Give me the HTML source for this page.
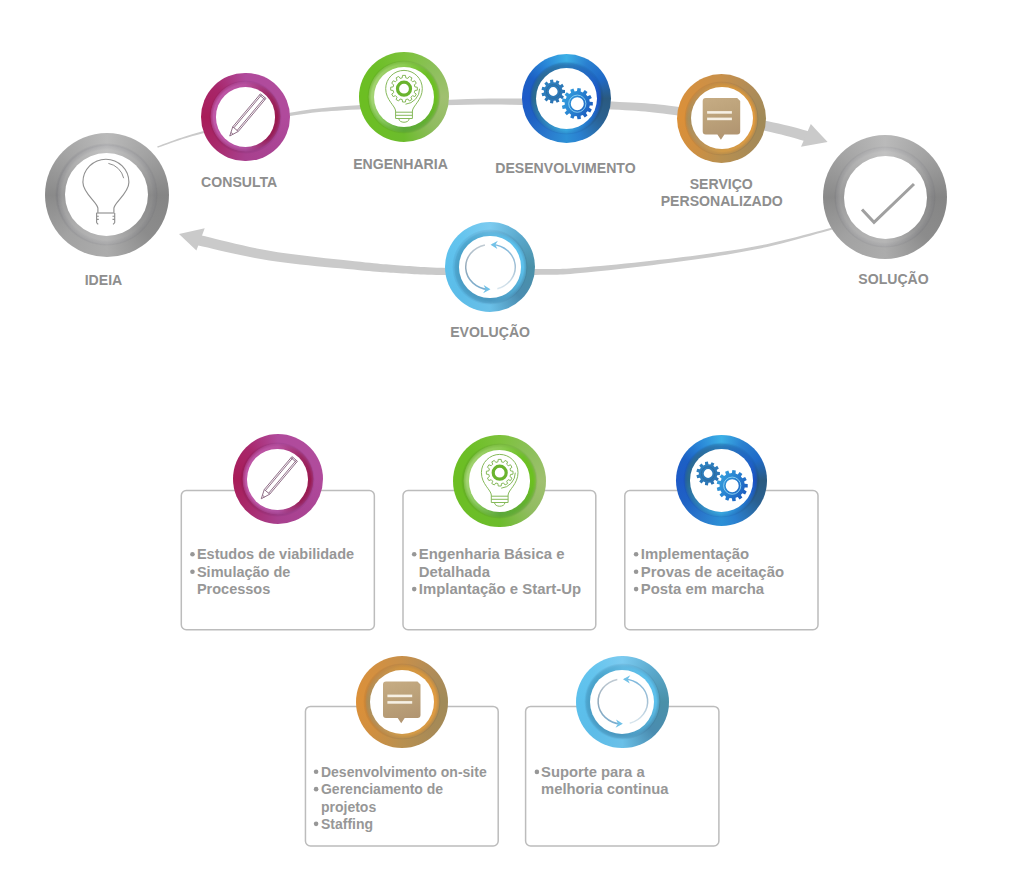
<!DOCTYPE html>
<html><head><meta charset="utf-8"><title>Processo</title><style>
html,body{margin:0;padding:0;background:#fff}
body{width:1024px;height:880px;position:relative;overflow:hidden;font-family:"Liberation Sans",sans-serif}
.rg{position:absolute;border-radius:50%}
.bd{-webkit-mask-image:radial-gradient(closest-side,#000 90%,rgba(0,0,0,0.5) 97%,transparent 100%);mask-image:radial-gradient(closest-side,#000 90%,rgba(0,0,0,0.5) 97%,transparent 100%)}
.bx{position:absolute;border:1.5px solid #bcbcbc;border-radius:5px;background:#fff}
.lb{position:absolute;width:200px;text-align:center;font-weight:bold;color:#8e8e8e;white-space:nowrap}
.bu{position:absolute;border-radius:50%;background:#979797}
.bt{position:absolute;font-weight:bold;color:#979797;white-space:nowrap}
svg{position:absolute;left:0;top:0}
</style></head><body>
<svg width="1024" height="880"><path d="M157.73,147.66 L159.75,146.99 L162.09,146.16 L164.74,145.21 L167.69,144.13 L170.95,142.96 L174.52,141.72 L178.39,140.41 L182.56,139.05 L187.04,137.68 L191.81,136.29 L196.88,134.92 L202.25,133.58 L208.12,132.20 L214.63,130.72 L221.66,129.15 L229.11,127.54 L236.86,125.91 L244.80,124.27 L252.82,122.66 L260.81,121.10 L268.67,119.62 L276.26,118.25 L283.50,117.00 L290.26,115.91 L296.42,114.97 L302.00,114.16 L307.14,113.46 L312.00,112.85 L316.71,112.33 L321.43,111.86 L326.31,111.44 L331.49,111.04 L337.11,110.65 L343.33,110.26 L350.29,109.85 L358.13,109.40 L366.93,108.91 L376.55,108.38 L386.87,107.84 L397.76,107.30 L409.10,106.76 L420.75,106.26 L432.58,105.79 L444.48,105.37 L456.30,105.03 L467.91,104.76 L479.20,104.59 L490.02,104.53 L500.69,104.59 L511.55,104.77 L522.52,105.04 L533.50,105.40 L544.41,105.82 L555.18,106.29 L565.70,106.81 L575.90,107.34 L585.70,107.88 L595.01,108.41 L603.74,108.92 L611.80,109.38 L619.02,109.80 L625.37,110.17 L630.99,110.51 L636.04,110.85 L640.68,111.19 L645.04,111.55 L649.30,111.95 L653.61,112.40 L658.12,112.92 L662.99,113.54 L668.37,114.25 L674.42,115.09 L681.19,116.08 L688.55,117.21 L696.40,118.47 L704.58,119.82 L712.96,121.25 L721.41,122.72 L729.80,124.21 L737.98,125.70 L745.84,127.16 L753.22,128.56 L760.00,129.88 L766.03,131.08 L771.45,132.23 L776.50,133.38 L781.21,134.52 L785.58,135.64 L789.63,136.74 L793.36,137.79 L796.78,138.79 L799.90,139.73 L802.73,140.59 L805.30,141.36 L807.61,142.04 L809.62,142.60 L812.38,132.40 L810.44,131.89 L808.24,131.27 L805.70,130.54 L802.84,129.72 L799.66,128.81 L796.14,127.83 L792.30,126.80 L788.12,125.73 L783.60,124.64 L778.74,123.53 L773.53,122.42 L767.97,121.32 L761.84,120.18 L755.00,118.95 L747.55,117.64 L739.64,116.29 L731.40,114.91 L722.96,113.53 L714.46,112.17 L706.02,110.85 L697.78,109.60 L689.87,108.45 L682.42,107.41 L675.58,106.51 L669.47,105.75 L664.02,105.10 L659.07,104.55 L654.47,104.08 L650.06,103.67 L645.71,103.33 L641.25,103.02 L636.55,102.74 L631.45,102.48 L625.79,102.21 L619.42,101.93 L612.20,101.62 L604.13,101.26 L595.39,100.88 L586.06,100.48 L576.24,100.07 L566.01,99.68 L555.45,99.32 L544.65,98.99 L533.69,98.72 L522.66,98.52 L511.64,98.40 L500.72,98.38 L489.98,98.47 L479.09,98.68 L467.76,99.01 L456.11,99.44 L444.26,99.95 L432.35,100.53 L420.50,101.17 L408.84,101.84 L397.50,102.53 L386.60,103.23 L376.28,103.92 L366.66,104.58 L357.87,105.20 L350.02,105.76 L343.06,106.27 L336.83,106.75 L331.18,107.21 L325.98,107.68 L321.07,108.18 L316.31,108.72 L311.56,109.32 L306.67,110.00 L301.50,110.77 L295.91,111.66 L289.74,112.69 L282.96,113.88 L275.71,115.24 L268.11,116.72 L260.26,118.31 L252.27,119.98 L244.26,121.70 L236.33,123.45 L228.59,125.20 L221.16,126.91 L214.13,128.57 L207.63,130.15 L201.75,131.62 L196.38,133.04 L191.29,134.49 L186.51,135.95 L182.03,137.39 L177.85,138.81 L173.98,140.17 L170.41,141.47 L167.16,142.69 L164.22,143.80 L161.59,144.79 L159.28,145.64 L157.27,146.34Z" fill="#cacaca"/><path d="M810.8,124 L827.6,142 L801,146.7 Z" fill="#cacaca"/><path d="M835.75,226.57 L832.10,227.51 L827.55,228.71 L822.25,230.14 L816.30,231.74 L809.83,233.47 L802.94,235.29 L795.77,237.15 L788.42,239.01 L781.02,240.83 L773.69,242.55 L766.55,244.14 L759.70,245.55 L753.03,246.82 L746.32,248.03 L739.57,249.18 L732.77,250.27 L725.91,251.32 L718.99,252.33 L712.00,253.31 L704.93,254.27 L697.78,255.21 L690.53,256.13 L683.19,257.05 L675.74,257.97 L668.00,258.90 L659.85,259.85 L651.39,260.80 L642.74,261.74 L634.01,262.66 L625.31,263.55 L616.74,264.40 L608.41,265.20 L600.45,265.95 L592.94,266.62 L586.01,267.21 L579.77,267.72 L574.40,268.12 L569.90,268.44 L566.11,268.67 L562.86,268.83 L559.97,268.93 L557.26,268.99 L554.55,269.00 L551.66,268.99 L548.43,268.97 L544.69,268.94 L540.26,268.91 L534.98,268.90 L528.76,268.89 L521.68,268.86 L513.93,268.81 L505.67,268.75 L497.08,268.66 L488.33,268.56 L479.59,268.45 L471.03,268.33 L462.82,268.20 L455.15,268.06 L448.17,267.92 L442.07,267.78 L436.80,267.63 L432.14,267.47 L428.01,267.30 L424.32,267.12 L420.98,266.94 L417.91,266.74 L415.03,266.54 L412.23,266.33 L409.44,266.11 L406.57,265.88 L403.54,265.65 L400.26,265.40 L397.01,265.17 L394.05,264.96 L391.29,264.76 L388.64,264.57 L386.01,264.37 L383.31,264.15 L380.44,263.90 L377.32,263.61 L373.85,263.27 L369.94,262.87 L365.49,262.40 L360.42,261.84 L354.62,261.22 L348.13,260.53 L341.06,259.79 L333.54,259.00 L325.68,258.16 L317.59,257.27 L309.39,256.34 L301.19,255.36 L293.11,254.34 L285.27,253.29 L277.78,252.20 L270.77,251.08 L263.90,249.85 L256.83,248.46 L249.65,246.95 L242.48,245.35 L235.40,243.72 L228.53,242.07 L221.97,240.47 L215.81,238.94 L210.15,237.52 L205.09,236.26 L200.73,235.19 L197.18,234.35 L194.82,244.65 L198.32,245.43 L202.64,246.43 L207.69,247.62 L213.38,248.97 L219.59,250.42 L226.22,251.95 L233.17,253.51 L240.34,255.08 L247.63,256.60 L254.94,258.04 L262.18,259.36 L269.23,260.52 L276.42,261.57 L284.03,262.58 L291.98,263.54 L300.14,264.45 L308.40,265.33 L316.66,266.15 L324.79,266.94 L332.68,267.67 L340.22,268.37 L347.29,269.01 L353.78,269.61 L359.58,270.16 L364.66,270.64 L369.14,271.06 L373.09,271.41 L376.61,271.70 L379.78,271.95 L382.69,272.17 L385.43,272.35 L388.10,272.52 L390.77,272.68 L393.54,272.84 L396.50,273.01 L399.74,273.20 L403.00,273.40 L406.02,273.59 L408.89,273.78 L411.69,273.97 L414.53,274.14 L417.46,274.31 L420.59,274.46 L423.98,274.60 L427.73,274.73 L431.91,274.85 L436.62,274.94 L441.93,275.02 L448.06,275.09 L455.06,275.13 L462.75,275.17 L470.97,275.19 L479.54,275.19 L488.30,275.19 L497.06,275.17 L505.66,275.14 L513.93,275.09 L521.69,275.04 L528.78,274.97 L535.02,274.90 L540.28,274.83 L544.69,274.80 L548.43,274.78 L551.67,274.76 L554.59,274.73 L557.37,274.68 L560.16,274.58 L563.14,274.44 L566.46,274.23 L570.30,273.94 L574.83,273.56 L580.23,273.08 L586.49,272.49 L593.43,271.80 L600.95,271.03 L608.92,270.18 L617.25,269.26 L625.82,268.29 L634.52,267.28 L643.26,266.24 L651.91,265.19 L660.36,264.12 L668.52,263.07 L676.26,262.03 L683.71,261.01 L691.04,259.99 L698.29,258.96 L705.44,257.93 L712.51,256.88 L719.51,255.80 L726.44,254.70 L733.31,253.55 L740.12,252.36 L746.88,251.12 L753.61,249.82 L760.30,248.45 L767.16,246.94 L774.33,245.25 L781.66,243.42 L789.06,241.50 L796.40,239.54 L803.56,237.58 L810.43,235.67 L816.88,233.85 L822.81,232.18 L828.09,230.68 L832.61,229.42 L836.25,228.43Z" fill="#cacaca"/><path d="M179,234 L204.7,228.2 L196.4,250.6 Z" fill="#cacaca"/><rect x="181.30" y="490.50" width="193.05" height="139.30" rx="5" ry="5" fill="#fff" stroke="#bcbcbc" stroke-width="1.5"/><rect x="403.00" y="490.50" width="192.80" height="139.30" rx="5" ry="5" fill="#fff" stroke="#bcbcbc" stroke-width="1.5"/><rect x="624.80" y="490.50" width="193.20" height="139.30" rx="5" ry="5" fill="#fff" stroke="#bcbcbc" stroke-width="1.5"/><rect x="305.45" y="706.40" width="192.75" height="139.50" rx="5" ry="5" fill="#fff" stroke="#bcbcbc" stroke-width="1.5"/><rect x="525.60" y="706.40" width="193.30" height="139.50" rx="5" ry="5" fill="#fff" stroke="#bcbcbc" stroke-width="1.5"/></svg>
<div class="rg" style="left:44.50px;top:132.50px;width:124.00px;height:124.00px;background:conic-gradient(#bababa 0deg,#a2a2a2 45deg,#858585 90deg,#8c8c8c 135deg,#acacac 180deg,#a2a2a2 225deg,#8a8a8a 270deg,#a4a4a4 315deg,#bababa 360deg)"><div class="rg bd" style="left:10.80px;top:10.80px;width:102.40px;height:102.40px;background:rgba(0,0,40,0.10)"></div><div class="rg bd" style="left:12.00px;top:12.00px;width:100.00px;height:100.00px;background:conic-gradient(#c2c2c2 0deg,#aaaaaa 45deg,#8a8a8a 90deg,#969696 135deg,#b6b6b6 180deg,#aeaeae 225deg,#9a9a9a 270deg,#b0b0b0 315deg,#c2c2c2 360deg)"></div><div class="rg" style="left:20.50px;top:20.50px;width:83.00px;height:83.00px;background:#fff"></div></div><div class="rg" style="left:823.30px;top:135.00px;width:124.00px;height:124.00px;background:conic-gradient(#bababa 0deg,#a2a2a2 45deg,#858585 90deg,#8c8c8c 135deg,#acacac 180deg,#a2a2a2 225deg,#8a8a8a 270deg,#a4a4a4 315deg,#bababa 360deg)"><div class="rg bd" style="left:10.80px;top:10.80px;width:102.40px;height:102.40px;background:rgba(0,0,40,0.10)"></div><div class="rg bd" style="left:12.00px;top:12.00px;width:100.00px;height:100.00px;background:conic-gradient(#c2c2c2 0deg,#aaaaaa 45deg,#8a8a8a 90deg,#969696 135deg,#b6b6b6 180deg,#aeaeae 225deg,#9a9a9a 270deg,#b0b0b0 315deg,#c2c2c2 360deg)"></div><div class="rg" style="left:20.50px;top:20.50px;width:83.00px;height:83.00px;background:#fff"></div></div><div class="rg" style="left:201.40px;top:72.80px;width:88.40px;height:88.40px;background:conic-gradient(#b04a9c 0deg,#b04c9c 60deg,#b04a9c 90deg,#aa4494 135deg,#a8408e 180deg,#a82a6c 225deg,#a81c58 270deg,#a8266a 315deg,#b04a9c 360deg)"><div class="rg bd" style="left:7.50px;top:7.50px;width:73.40px;height:73.40px;background:rgba(0,0,40,0.10)"></div><div class="rg bd" style="left:8.70px;top:8.70px;width:71.00px;height:71.00px;background:conic-gradient(#b8509f 0deg,#9e2a66 45deg,#9a1a50 90deg,#982058 135deg,#b050a0 180deg,#bc56a6 225deg,#c058a8 270deg,#bc54a4 315deg,#b8509f 360deg)"></div><div class="rg" style="left:14.60px;top:14.60px;width:59.20px;height:59.20px;background:#fff"></div></div><div class="rg" style="left:358.80px;top:51.80px;width:90.40px;height:90.40px;background:conic-gradient(#7cc23a 0deg,#8cc05a 45deg,#a0c070 90deg,#90bc60 135deg,#6cbc2c 180deg,#6cbe26 225deg,#6cbe22 270deg,#6cbe26 315deg,#7cc23a 360deg)"><div class="rg bd" style="left:8.00px;top:8.00px;width:74.40px;height:74.40px;background:rgba(0,0,40,0.10)"></div><div class="rg bd" style="left:9.20px;top:9.20px;width:72.00px;height:72.00px;background:conic-gradient(#8ccb52 0deg,#6cc024 45deg,#6cc020 90deg,#62b030 135deg,#5ca83a 180deg,#88c85c 225deg,#a4d474 270deg,#9cd068 315deg,#8ccb52 360deg)"></div><div class="rg" style="left:15.20px;top:15.20px;width:60.00px;height:60.00px;background:#fff"></div></div><div class="rg" style="left:521.70px;top:53.50px;width:89.60px;height:89.60px;background:conic-gradient(#3cb0e6 0deg,#2a80d0 30deg,#1f6ac8 60deg,#2a5a80 90deg,#2a6090 120deg,#2a80d0 160deg,#2c90d6 180deg,#2a78cc 210deg,#1f62c4 240deg,#1e5ac8 270deg,#1c60c4 300deg,#2a88d8 330deg,#3cb0e6 360deg)"><div class="rg bd" style="left:7.60px;top:7.60px;width:74.40px;height:74.40px;background:rgba(0,0,40,0.10)"></div><div class="rg bd" style="left:8.80px;top:8.80px;width:72.00px;height:72.00px;background:conic-gradient(#2a7ab8 0deg,#1f62c8 60deg,#1a50c8 90deg,#2274cc 135deg,#38a6de 180deg,#2e80b8 225deg,#2a6a90 270deg,#2b6a98 315deg,#2a7ab8 360deg)"></div><div class="rg" style="left:14.00px;top:14.00px;width:61.60px;height:61.60px;background:#fff"></div></div><div class="rg" style="left:676.90px;top:73.50px;width:89.60px;height:89.60px;background:conic-gradient(#c8904a 0deg,#b08c58 45deg,#a08a58 90deg,#a88a56 135deg,#b89050 180deg,#d08f40 225deg,#dc9038 270deg,#d49040 315deg,#c8904a 360deg)"><div class="rg bd" style="left:7.10px;top:7.10px;width:75.40px;height:75.40px;background:rgba(0,0,40,0.10)"></div><div class="rg bd" style="left:8.30px;top:8.30px;width:73.00px;height:73.00px;background:conic-gradient(#d09440 0deg,#d89840 45deg,#e09a40 90deg,#d89a44 135deg,#d09a48 180deg,#b8925a 225deg,#a88e5c 270deg,#c09050 315deg,#d09440 360deg)"></div><div class="rg" style="left:13.80px;top:13.80px;width:62.00px;height:62.00px;background:#fff"></div></div><div class="rg" style="left:445.00px;top:222.00px;width:90.00px;height:90.00px;background:conic-gradient(#7ccbf0 0deg,#5aa8cc 45deg,#4a90a8 90deg,#4a8cb0 135deg,#6ac0e8 180deg,#5cbce8 225deg,#5cc0ec 270deg,#64c4ee 315deg,#7ccbf0 360deg)"><div class="rg bd" style="left:7.30px;top:7.30px;width:75.40px;height:75.40px;background:rgba(0,0,40,0.10)"></div><div class="rg bd" style="left:8.50px;top:8.50px;width:73.00px;height:73.00px;background:conic-gradient(#60b8e0 0deg,#5cc0ec 45deg,#5cc0ec 90deg,#52a8d0 135deg,#4a98c0 180deg,#4a9cc4 225deg,#4aa0c8 270deg,#4aa4cc 315deg,#60b8e0 360deg)"></div><div class="rg" style="left:14.40px;top:14.40px;width:61.20px;height:61.20px;background:#fff"></div></div><div class="rg" style="left:232.70px;top:434.40px;width:90.00px;height:90.00px;background:conic-gradient(#b04a9c 0deg,#b04c9c 60deg,#b04a9c 90deg,#aa4494 135deg,#a8408e 180deg,#a82a6c 225deg,#a81c58 270deg,#a8266a 315deg,#b04a9c 360deg)"><div class="rg bd" style="left:7.80px;top:7.80px;width:74.40px;height:74.40px;background:rgba(0,0,40,0.10)"></div><div class="rg bd" style="left:9.00px;top:9.00px;width:72.00px;height:72.00px;background:conic-gradient(#b8509f 0deg,#9e2a66 45deg,#9a1a50 90deg,#982058 135deg,#b050a0 180deg,#bc56a6 225deg,#c058a8 270deg,#bc54a4 315deg,#b8509f 360deg)"></div><div class="rg" style="left:14.70px;top:14.70px;width:60.60px;height:60.60px;background:#fff"></div></div><div class="rg" style="left:453.40px;top:434.70px;width:92.60px;height:92.60px;background:conic-gradient(#7cc23a 0deg,#8cc05a 45deg,#a0c070 90deg,#90bc60 135deg,#6cbc2c 180deg,#6cbe26 225deg,#6cbe22 270deg,#6cbe26 315deg,#7cc23a 360deg)"><div class="rg bd" style="left:8.10px;top:8.10px;width:76.40px;height:76.40px;background:rgba(0,0,40,0.10)"></div><div class="rg bd" style="left:9.30px;top:9.30px;width:74.00px;height:74.00px;background:conic-gradient(#8ccb52 0deg,#6cc024 45deg,#6cc020 90deg,#62b030 135deg,#5ca83a 180deg,#88c85c 225deg,#a4d474 270deg,#9cd068 315deg,#8ccb52 360deg)"></div><div class="rg" style="left:15.55px;top:15.55px;width:61.50px;height:61.50px;background:#fff"></div></div><div class="rg" style="left:675.90px;top:434.80px;width:91.00px;height:91.00px;background:conic-gradient(#3cb0e6 0deg,#2a80d0 30deg,#1f6ac8 60deg,#2a5a80 90deg,#2a6090 120deg,#2a80d0 160deg,#2c90d6 180deg,#2a78cc 210deg,#1f62c4 240deg,#1e5ac8 270deg,#1c60c4 300deg,#2a88d8 330deg,#3cb0e6 360deg)"><div class="rg bd" style="left:7.30px;top:7.30px;width:76.40px;height:76.40px;background:rgba(0,0,40,0.10)"></div><div class="rg bd" style="left:8.50px;top:8.50px;width:74.00px;height:74.00px;background:conic-gradient(#2a7ab8 0deg,#1f62c8 60deg,#1a50c8 90deg,#2274cc 135deg,#38a6de 180deg,#2e80b8 225deg,#2a6a90 270deg,#2b6a98 315deg,#2a7ab8 360deg)"></div><div class="rg" style="left:14.20px;top:14.20px;width:62.60px;height:62.60px;background:#fff"></div></div><div class="rg" style="left:356.00px;top:655.80px;width:92.00px;height:92.00px;background:conic-gradient(#c8904a 0deg,#b08c58 45deg,#a08a58 90deg,#a88a56 135deg,#b89050 180deg,#d08f40 225deg,#dc9038 270deg,#d49040 315deg,#c8904a 360deg)"><div class="rg bd" style="left:7.30px;top:7.30px;width:77.40px;height:77.40px;background:rgba(0,0,40,0.10)"></div><div class="rg bd" style="left:8.50px;top:8.50px;width:75.00px;height:75.00px;background:conic-gradient(#d09440 0deg,#d89840 45deg,#e09a40 90deg,#d89a44 135deg,#d09a48 180deg,#b8925a 225deg,#a88e5c 270deg,#c09050 315deg,#d09440 360deg)"></div><div class="rg" style="left:14.00px;top:14.00px;width:64.00px;height:64.00px;background:#fff"></div></div><div class="rg" style="left:576.10px;top:655.50px;width:92.60px;height:92.60px;background:conic-gradient(#7ccbf0 0deg,#5aa8cc 45deg,#4a90a8 90deg,#4a8cb0 135deg,#6ac0e8 180deg,#5cbce8 225deg,#5cc0ec 270deg,#64c4ee 315deg,#7ccbf0 360deg)"><div class="rg bd" style="left:7.60px;top:7.60px;width:77.40px;height:77.40px;background:rgba(0,0,40,0.10)"></div><div class="rg bd" style="left:8.80px;top:8.80px;width:75.00px;height:75.00px;background:conic-gradient(#60b8e0 0deg,#5cc0ec 45deg,#5cc0ec 90deg,#52a8d0 135deg,#4a98c0 180deg,#4a9cc4 225deg,#4aa0c8 270deg,#4aa4cc 315deg,#60b8e0 360deg)"></div><div class="rg" style="left:14.30px;top:14.30px;width:64.00px;height:64.00px;background:#fff"></div></div>
<svg width="1024" height="880"><defs>
<linearGradient id="gears" x1="0" y1="0" x2="1" y2="1"><stop offset="0" stop-color="#2f86c4"/><stop offset="1" stop-color="#2a6eae"/></linearGradient><linearGradient id="gearl" x1="0" y1="0" x2="1" y2="0.6"><stop offset="0" stop-color="#3aa8e2"/><stop offset="0.5" stop-color="#2a86d2"/><stop offset="1" stop-color="#1c5ec0"/></linearGradient>
<linearGradient id="bubg" x1="0" y1="0" x2="0.3" y2="1"><stop offset="0" stop-color="#c6ac84"/><stop offset="0.5" stop-color="#bca27a"/><stop offset="1" stop-color="#b29672"/></linearGradient>
</defs><g transform="translate(105.9,182.2)" fill="none" stroke="#909090" stroke-width="1.15"><path d="M-8,30.5 L-8,26 C-8.5,20 -23,11 -23,0 A23,23 0 1 1 23,0 C23,11 8.5,20 8,26 L8,30.5"/><path d="M-9.5,30.8 H8.5"/><path d="M-9.3,30.8 V40.5 M8.8,30.8 V40.5 M-9.3,34 h2.2 M-9.3,37.2 h2.2 M8.8,34 h-2.2 M8.8,37.2 h-2.2 M-9.3,40.5 l1.6,1.6 M8.8,40.5 l-1.6,1.6"/><path d="M2.5,-18.8 A19.5,19.5 0 0 1 17.8,-4" stroke-width="1"/></g><path d="M862,209.5 L874,222.3 L914,184" fill="none" stroke="#a0a0a0" stroke-width="3"/><g transform="translate(229.75,136) rotate(-50)" fill="none" stroke="#8c6a84" stroke-width="0.9">
<path d="M0,0 L9,-3.6 L52,-3.6 L52,3.6 L9,3.6 Z"/><path d="M9,-3.6 L9,3.6"/><path d="M9,-2.1 L52,-2.1"/><path d="M9,2.1 L52,2.1"/><path d="M50.5,-3.6 L50.5,3.6"/><path d="M3.5,-1.4 L3.5,1.4"/></g><g transform="translate(261.25,498.75) rotate(-50)" fill="none" stroke="#8c6a84" stroke-width="0.9">
<path d="M0,0 L9,-3.6 L52,-3.6 L52,3.6 L9,3.6 Z"/><path d="M9,-3.6 L9,3.6"/><path d="M9,-2.1 L52,-2.1"/><path d="M9,2.1 L52,2.1"/><path d="M50.5,-3.6 L50.5,3.6"/><path d="M3.5,-1.4 L3.5,1.4"/></g><g transform="translate(404,97)" fill="none" stroke="#86b95a" stroke-width="1"><path d="M-8.4,14 C-8.6,9 -18.3,3 -18.3,-8.3 A18.3,18.3 0 1 1 18.3,-8.3 C18.3,3 8.6,9 8.4,14"/><path d="M-8.4,14 L-8.4,21.5 M8.4,14 L8.4,21.5 M-8.4,15.2 H8.4 M-8.4,18.3 H8.4 M-8.4,21.5 H8.4"/><path d="M-5.2,21.5 C-5.2,26.5 5.2,26.5 5.2,21.5"/><path d="M10.86,-10.08 L13.32,-9.77 L13.32,-6.83 L10.86,-6.52 L10.29,-4.41 L12.27,-2.91 L10.80,-0.37 L8.51,-1.33 L6.97,0.21 L7.93,2.50 L5.39,3.97 L3.89,1.99 L1.78,2.56 L1.47,5.02 L-1.47,5.02 L-1.78,2.56 L-3.89,1.99 L-5.39,3.97 L-7.93,2.50 L-6.97,0.21 L-8.51,-1.33 L-10.80,-0.37 L-12.27,-2.91 L-10.29,-4.41 L-10.86,-6.52 L-13.32,-6.83 L-13.32,-9.77 L-10.86,-10.08 L-10.29,-12.19 L-12.27,-13.69 L-10.80,-16.23 L-8.51,-15.27 L-6.97,-16.81 L-7.93,-19.10 L-5.39,-20.57 L-3.89,-18.59 L-1.78,-19.16 L-1.47,-21.62 L1.47,-21.62 L1.78,-19.16 L3.89,-18.59 L5.39,-20.57 L7.93,-19.10 L6.97,-16.81 L8.51,-15.27 L10.80,-16.23 L12.27,-13.69 L10.29,-12.19Z"/><circle cx="0" cy="-8.3" r="6.5" stroke="#6ab42e" stroke-width="3.2"/><path d="M15.6,-8.3 A15.6,15.6 0 0 1 1.5,7.199999999999999"/></g><g transform="translate(499.7,481)" fill="none" stroke="#86b95a" stroke-width="1"><path d="M-8.4,14 C-8.6,9 -18.3,3 -18.3,-8.3 A18.3,18.3 0 1 1 18.3,-8.3 C18.3,3 8.6,9 8.4,14"/><path d="M-8.4,14 L-8.4,21.5 M8.4,14 L8.4,21.5 M-8.4,15.2 H8.4 M-8.4,18.3 H8.4 M-8.4,21.5 H8.4"/><path d="M-5.2,21.5 C-5.2,26.5 5.2,26.5 5.2,21.5"/><path d="M10.86,-10.08 L13.32,-9.77 L13.32,-6.83 L10.86,-6.52 L10.29,-4.41 L12.27,-2.91 L10.80,-0.37 L8.51,-1.33 L6.97,0.21 L7.93,2.50 L5.39,3.97 L3.89,1.99 L1.78,2.56 L1.47,5.02 L-1.47,5.02 L-1.78,2.56 L-3.89,1.99 L-5.39,3.97 L-7.93,2.50 L-6.97,0.21 L-8.51,-1.33 L-10.80,-0.37 L-12.27,-2.91 L-10.29,-4.41 L-10.86,-6.52 L-13.32,-6.83 L-13.32,-9.77 L-10.86,-10.08 L-10.29,-12.19 L-12.27,-13.69 L-10.80,-16.23 L-8.51,-15.27 L-6.97,-16.81 L-7.93,-19.10 L-5.39,-20.57 L-3.89,-18.59 L-1.78,-19.16 L-1.47,-21.62 L1.47,-21.62 L1.78,-19.16 L3.89,-18.59 L5.39,-20.57 L7.93,-19.10 L6.97,-16.81 L8.51,-15.27 L10.80,-16.23 L12.27,-13.69 L10.29,-12.19Z"/><circle cx="0" cy="-8.3" r="6.5" stroke="#6ab42e" stroke-width="3.2"/><path d="M15.6,-8.3 A15.6,15.6 0 0 1 1.5,7.199999999999999"/></g><path fill="url(#gears)" fill-rule="evenodd" d="M562.35,89.86 L565.00,89.97 L565.00,93.03 L562.35,93.14 L561.79,95.07 L563.95,96.60 L562.30,99.16 L560.02,97.83 L558.49,99.15 L559.49,101.60 L556.72,102.87 L555.51,100.51 L553.52,100.79 L553.03,103.40 L550.01,102.96 L550.28,100.33 L548.44,99.49 L546.62,101.42 L544.32,99.42 L545.97,97.35 L544.88,95.65 L542.31,96.29 L541.45,93.36 L543.95,92.51 L543.95,90.49 L541.45,89.64 L542.31,86.71 L544.88,87.35 L545.97,85.65 L544.32,83.58 L546.62,81.58 L548.44,83.51 L550.28,82.67 L550.01,80.04 L553.03,79.60 L553.52,82.21 L555.51,82.49 L556.72,80.13 L559.49,81.40 L558.49,83.85 L560.02,85.17 L562.30,83.84 L563.95,86.40 L561.79,87.93Z M557.60,91.50 A4.4,4.4 0 1 0 548.80,91.50 A4.4,4.4 0 1 0 557.60,91.50Z"/><circle cx="553.2" cy="91.5" r="6.8" fill="none" stroke="#2a6898" stroke-width="0.8"/><path fill="url(#gearl)" fill-rule="evenodd" d="M589.76,101.82 L592.81,102.01 L592.81,105.39 L589.76,105.58 L589.21,107.82 L591.82,109.41 L590.24,112.41 L587.46,111.16 L585.93,112.89 L587.50,115.50 L584.72,117.42 L582.83,115.02 L580.67,115.84 L580.85,118.89 L577.49,119.30 L576.93,116.29 L574.64,116.02 L573.38,118.80 L570.22,117.60 L571.12,114.68 L569.22,113.37 L566.81,115.25 L564.57,112.72 L566.73,110.55 L565.65,108.51 L562.65,109.06 L561.84,105.77 L564.75,104.86 L564.75,102.54 L561.84,101.63 L562.65,98.34 L565.65,98.89 L566.73,96.85 L564.57,94.68 L566.81,92.15 L569.22,94.03 L571.12,92.72 L570.22,89.80 L573.38,88.60 L574.64,91.38 L576.93,91.11 L577.49,88.10 L580.85,88.51 L580.67,91.56 L582.83,92.38 L584.72,89.98 L587.50,91.90 L585.93,94.51 L587.46,96.24 L590.24,94.99 L591.82,97.99 L589.21,99.58Z M583.80,103.70 A6.5,6.5 0 1 0 570.80,103.70 A6.5,6.5 0 1 0 583.80,103.70Z"/><circle cx="577.3" cy="103.7" r="8.6" fill="none" stroke="#8fd4f4" stroke-width="0.9"/><path fill="url(#gears)" fill-rule="evenodd" d="M717.25,471.86 L719.90,471.97 L719.90,475.03 L717.25,475.14 L716.69,477.07 L718.85,478.60 L717.20,481.16 L714.92,479.83 L713.39,481.15 L714.39,483.60 L711.62,484.87 L710.41,482.51 L708.42,482.79 L707.93,485.40 L704.91,484.96 L705.18,482.33 L703.34,481.49 L701.52,483.42 L699.22,481.42 L700.87,479.35 L699.78,477.65 L697.21,478.29 L696.35,475.36 L698.85,474.51 L698.85,472.49 L696.35,471.64 L697.21,468.71 L699.78,469.35 L700.87,467.65 L699.22,465.58 L701.52,463.58 L703.34,465.51 L705.18,464.67 L704.91,462.04 L707.93,461.60 L708.42,464.21 L710.41,464.49 L711.62,462.13 L714.39,463.40 L713.39,465.85 L714.92,467.17 L717.20,465.84 L718.85,468.40 L716.69,469.93Z M712.50,473.50 A4.4,4.4 0 1 0 703.70,473.50 A4.4,4.4 0 1 0 712.50,473.50Z"/><circle cx="708.1" cy="473.5" r="6.8" fill="none" stroke="#2a6898" stroke-width="0.8"/><path fill="url(#gearl)" fill-rule="evenodd" d="M744.66,483.82 L747.71,484.01 L747.71,487.39 L744.66,487.58 L744.11,489.82 L746.72,491.41 L745.14,494.41 L742.36,493.16 L740.83,494.89 L742.40,497.50 L739.62,499.42 L737.73,497.02 L735.57,497.84 L735.75,500.89 L732.39,501.30 L731.83,498.29 L729.54,498.02 L728.28,500.80 L725.12,499.60 L726.02,496.68 L724.12,495.37 L721.71,497.25 L719.47,494.72 L721.63,492.55 L720.55,490.51 L717.55,491.06 L716.74,487.77 L719.65,486.86 L719.65,484.54 L716.74,483.63 L717.55,480.34 L720.55,480.89 L721.63,478.85 L719.47,476.68 L721.71,474.15 L724.12,476.03 L726.02,474.72 L725.12,471.80 L728.28,470.60 L729.54,473.38 L731.83,473.11 L732.39,470.10 L735.75,470.51 L735.57,473.56 L737.73,474.38 L739.62,471.98 L742.40,473.90 L740.83,476.51 L742.36,478.24 L745.14,476.99 L746.72,479.99 L744.11,481.58Z M738.70,485.70 A6.5,6.5 0 1 0 725.70,485.70 A6.5,6.5 0 1 0 738.70,485.70Z"/><circle cx="732.1999999999999" cy="485.7" r="8.6" fill="none" stroke="#8fd4f4" stroke-width="0.9"/><path fill="url(#bubg)" d="M705.7,97.9 L737.2,97.9 L740.2,100.9 L740.2,131.5 Q740.2,134.5 737.2,134.5 L724.4000000000001,134.5 L720.9000000000001,139.8 L717.4000000000001,134.5 L705.7,134.5 Q702.7,134.5 702.7,131.5 L702.7,100.9 Q702.7,97.9 705.7,97.9 Z"/><rect x="707.1" y="111.1" width="24.8" height="2.6" fill="#f6f0e4"/><rect x="707.1" y="117.6" width="24.8" height="2.6" fill="#f6f0e4"/><path fill="url(#bubg)" d="M386,681.4 L417.5,681.4 L420.5,684.4 L420.5,715.0 Q420.5,718.0 417.5,718.0 L404.7,718.0 L401.2,723.3 L397.7,718.0 L386,718.0 Q383,718.0 383,715.0 L383,684.4 Q383,681.4 386,681.4 Z"/><rect x="387.4" y="694.5999999999999" width="24.8" height="2.6" fill="#f6f0e4"/><rect x="387.4" y="701.0999999999999" width="24.8" height="2.6" fill="#f6f0e4"/><linearGradient id="cl1" gradientUnits="userSpaceOnUse" x1="490.5" y1="244" x2="490.5" y2="290"><stop offset="0" stop-color="#c2ccd4"/><stop offset="0.5" stop-color="#94aabb"/><stop offset="1" stop-color="#7aaed0"/></linearGradient><linearGradient id="cr1" gradientUnits="userSpaceOnUse" x1="490.5" y1="290" x2="490.5" y2="244"><stop offset="0" stop-color="#dce8ef"/><stop offset="0.5" stop-color="#a4c0d4"/><stop offset="1" stop-color="#7cb8de"/></linearGradient><path d="M484.92,244.98 A24.8,22.6 0 0 0 488.34,289.51" fill="none" stroke="url(#cl1)" stroke-width="1.5"/><path d="M497.34,288.72 A24.8,22.6 0 0 0 492.23,244.46" fill="none" stroke="url(#cr1)" stroke-width="1.5"/><path d="M490.43,289.29 L483.63,284.99 L485.63,289.19 L483.13,293.19 Z" fill="#72c2e8"/><path d="M490.57,244.71 L497.87,240.81 L495.37,244.81 L497.37,249.01 Z" fill="#72c2e8"/><linearGradient id="cl2" gradientUnits="userSpaceOnUse" x1="622.9" y1="678.5" x2="622.9" y2="724.5"><stop offset="0" stop-color="#c2ccd4"/><stop offset="0.5" stop-color="#94aabb"/><stop offset="1" stop-color="#7aaed0"/></linearGradient><linearGradient id="cr2" gradientUnits="userSpaceOnUse" x1="622.9" y1="724.5" x2="622.9" y2="678.5"><stop offset="0" stop-color="#dce8ef"/><stop offset="0.5" stop-color="#a4c0d4"/><stop offset="1" stop-color="#7cb8de"/></linearGradient><path d="M617.32,679.48 A24.8,22.6 0 0 0 620.74,724.01" fill="none" stroke="url(#cl2)" stroke-width="1.5"/><path d="M629.74,723.22 A24.8,22.6 0 0 0 624.63,678.96" fill="none" stroke="url(#cr2)" stroke-width="1.5"/><path d="M622.83,723.79 L616.03,719.49 L618.03,723.69 L615.53,727.69 Z" fill="#72c2e8"/><path d="M622.97,679.21 L630.27,675.31 L627.77,679.31 L629.77,683.51 Z" fill="#72c2e8"/><circle cx="192.45" cy="554.26" r="2.3" fill="#979797"/><circle cx="192.45" cy="571.81" r="2.3" fill="#979797"/><circle cx="414.20" cy="554.30" r="2.3" fill="#979797"/><circle cx="414.20" cy="589.10" r="2.3" fill="#979797"/><circle cx="636.10" cy="554.30" r="2.3" fill="#979797"/><circle cx="636.10" cy="571.70" r="2.3" fill="#979797"/><circle cx="636.10" cy="589.10" r="2.3" fill="#979797"/><circle cx="316.10" cy="771.80" r="2.3" fill="#979797"/><circle cx="316.10" cy="789.15" r="2.3" fill="#979797"/><circle cx="316.10" cy="823.85" r="2.3" fill="#979797"/><circle cx="536.90" cy="771.90" r="2.3" fill="#979797"/></svg>
<div class="lb" style="left:139.20px;top:171.54px;font-size:14.1px;line-height:20px">CONSULTA</div><div class="lb" style="left:300.50px;top:154.34px;font-size:14.1px;line-height:20px">ENGENHARIA</div><div class="lb" style="left:465.45px;top:157.94px;font-size:14.1px;line-height:20px">DESENVOLVIMENTO</div><div class="lb" style="left:621.25px;top:173.54px;font-size:14.1px;line-height:20px">SERVIÇO</div><div class="lb" style="left:621.75px;top:190.54px;font-size:14.1px;line-height:20px">PERSONALIZADO</div><div class="lb" style="left:3.45px;top:270.14px;font-size:14.1px;line-height:20px">IDEIA</div><div class="lb" style="left:793.50px;top:269.14px;font-size:14.1px;line-height:20px">SOLUÇÃO</div><div class="lb" style="left:390.15px;top:322.44px;font-size:14.1px;line-height:20px">EVOLUÇÃO</div><div class="bt" style="left:196.94px;top:544.27px;font-size:14.5px;line-height:20px">Estudos de viabilidade</div><div class="bt" style="left:196.94px;top:561.82px;font-size:14.5px;line-height:20px">Simulação de</div><div class="bt" style="left:196.94px;top:579.37px;font-size:14.5px;line-height:20px">Processos</div><div class="bt" style="left:418.82px;top:544.18px;font-size:14.9px;line-height:20px">Engenharia Básica e</div><div class="bt" style="left:418.82px;top:561.58px;font-size:14.9px;line-height:20px">Detalhada</div><div class="bt" style="left:418.82px;top:578.98px;font-size:14.9px;line-height:20px">Implantação e Start-Up</div><div class="bt" style="left:640.82px;top:544.18px;font-size:14.9px;line-height:20px">Implementação</div><div class="bt" style="left:640.82px;top:561.58px;font-size:14.9px;line-height:20px">Provas de aceitação</div><div class="bt" style="left:640.82px;top:578.98px;font-size:14.9px;line-height:20px">Posta em marcha</div><div class="bt" style="left:320.98px;top:761.97px;font-size:14.0px;line-height:20px">Desenvolvimento on-site</div><div class="bt" style="left:320.98px;top:779.32px;font-size:14.0px;line-height:20px">Gerenciamento de</div><div class="bt" style="left:320.98px;top:796.67px;font-size:14.0px;line-height:20px">projetos</div><div class="bt" style="left:320.98px;top:814.02px;font-size:14.0px;line-height:20px">Staffing</div><div class="bt" style="left:541.02px;top:761.81px;font-size:14.8px;line-height:20px">Suporte para a</div><div class="bt" style="left:541.02px;top:779.11px;font-size:14.8px;line-height:20px">melhoria continua</div>
</body></html>
